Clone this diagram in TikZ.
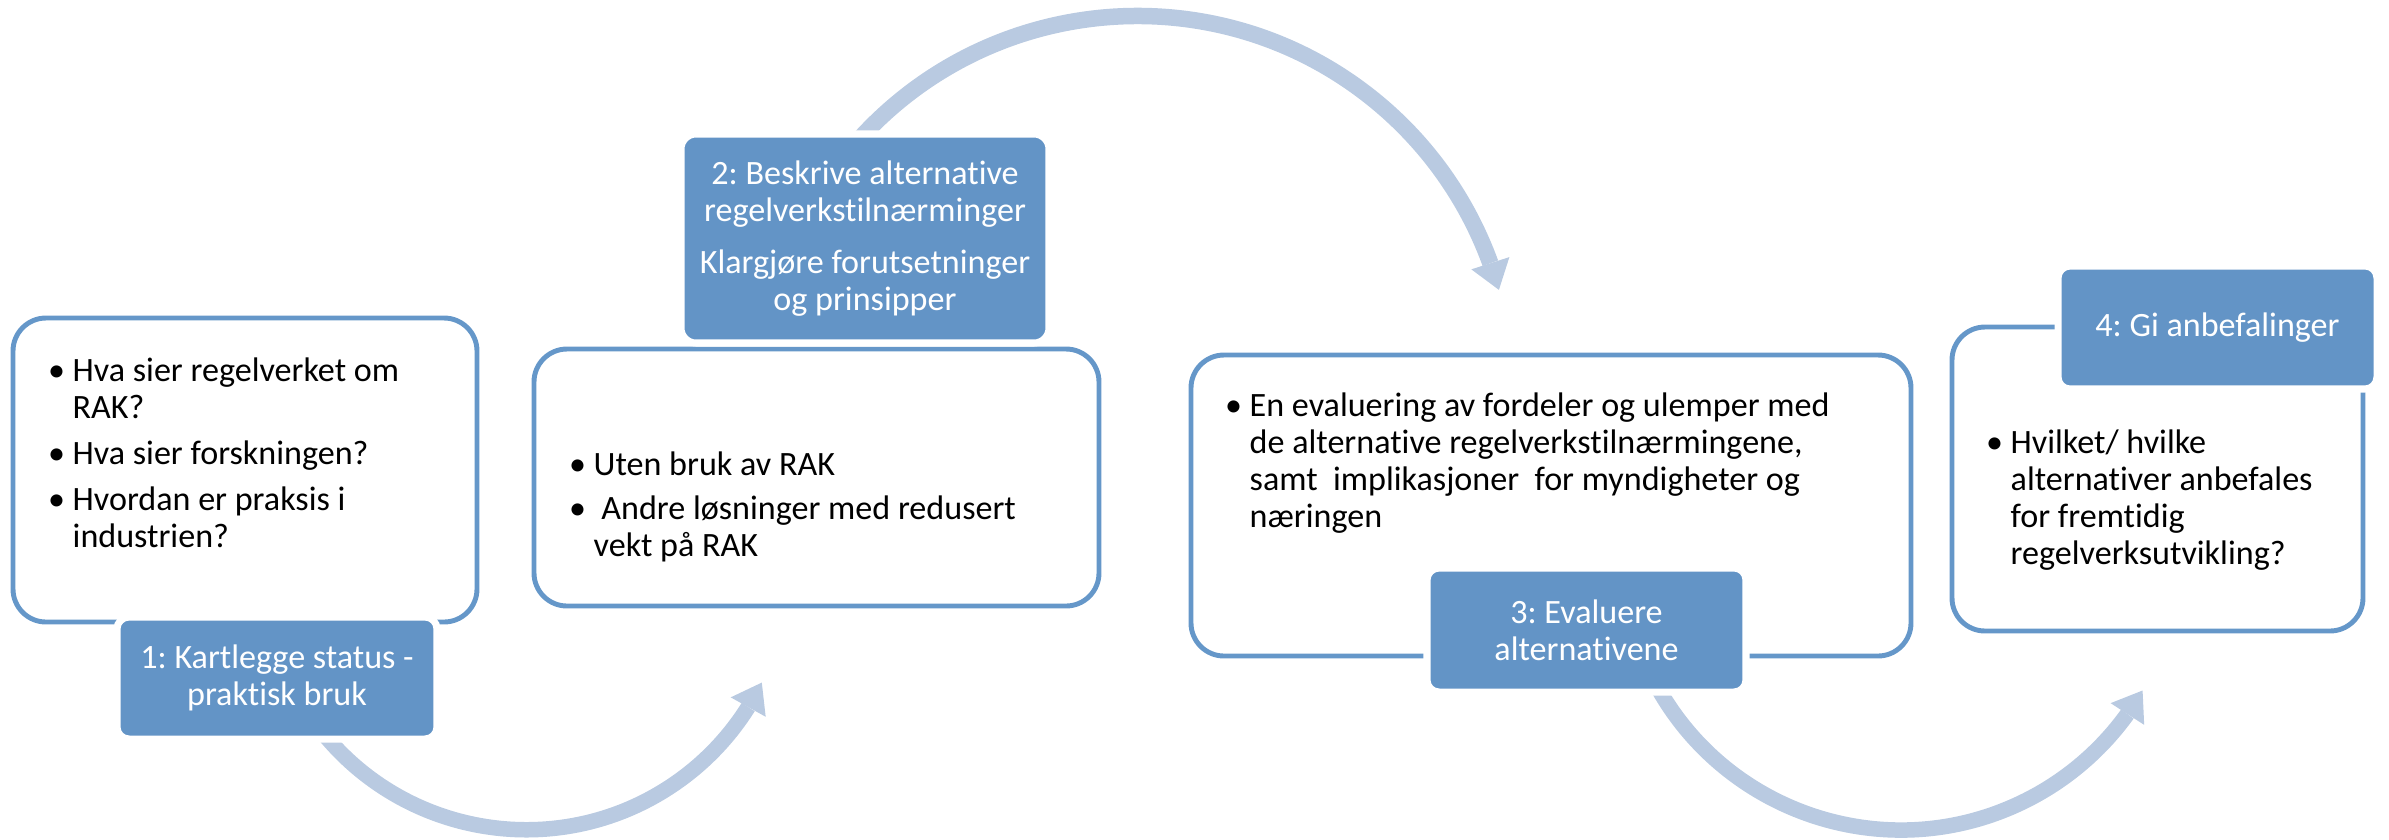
\documentclass[tikz,border=0pt]{standalone}
\usepackage{fontspec}
\setmainfont{Carlito}[Ligatures=NoCommon]
\usetikzlibrary{arrows.meta,bending,backgrounds}
\definecolor{stepblue}{RGB}{99,148,198}
\definecolor{rimblue}{RGB}{101,151,201}
\definecolor{flowblue}{RGB}{185,202,225}
\newcommand{\dotitem}{\llap{\makebox[0pt]{\textbullet}\hspace{4.6pt}}}
\frenchspacing
\begin{document}
\begin{tikzpicture}[
    panel/.style={draw=rimblue, line width=1.4pt, fill=white, rounded corners=0.33cm, inner sep=0pt},
    tag/.style={draw=white, line width=2pt, fill=stepblue, rounded corners=0.12cm, text=white,
      align=center, inner sep=0pt, font=\fontsize{9.7}{10.5}\selectfont},
    bullets/.style={anchor=base west, inner sep=0pt, font=\fontsize{9.7}{10.6}\selectfont},
    flow/.style={draw=flowblue, line width=0.155cm,
      -{Triangle[length=0.28cm, width=0.40cm, line width=0pt]}}
  ]
  \useasboundingbox (0,0) rectangle (23.89,-8.39);

  \node[panel, minimum width=4.64cm, minimum height=3.04cm] (b1) at (2.45,-4.70) {};
  \node[panel, minimum width=5.65cm, minimum height=2.57cm] (b2) at (8.165,-4.775) {};
  \node[panel, minimum width=7.20cm, minimum height=3.01cm] (b3) at (15.51,-5.055) {};
  \node[panel, minimum width=4.11cm, minimum height=3.04cm] (b4) at (21.575,-4.79) {};

  \node[bullets] (t1) at (0.72,-3.81) {\begin{tabular}[t]{@{}l@{}}
      \dotitem Hva sier regelverket om\\ RAK?\\[2.5pt]
      \dotitem Hva sier forskningen?\\[2.5pt]
      \dotitem Hvordan er praksis i\\ industrien?
    \end{tabular}};
  \node[bullets] (t2) at (5.93,-4.75) {\begin{tabular}[t]{@{}l@{}}
      \dotitem Uten bruk av RAK\\[2pt]
      \dotitem\ Andre løsninger med redusert\\ vekt på RAK
    \end{tabular}};
  \node[bullets] (t3) at (12.49,-4.16) {\begin{tabular}[t]{@{}l@{}}
      \dotitem En evaluering av fordeler og ulemper med\\
      de alternative regelverkstilnærmingene,\\
      samt\ \ implikasjoner\ \ for myndigheter og\\
      næringen
    \end{tabular}};
  \node[bullets] (t4) at (20.10,-4.53) {\begin{tabular}[t]{@{}l@{}}
      \dotitem Hvilket/ hvilke\\
      alternativer anbefales\\
      for fremtidig\\
      regelverksutvikling?
    \end{tabular}};

  \node[tag, minimum width=3.20cm, minimum height=1.22cm] (l1) at (2.77,-6.78)
    {1: Kartlegge status -\\praktisk bruk};
  \node[tag, minimum width=3.68cm, minimum height=2.09cm, rounded corners=0.15cm] (l2) at (8.65,-2.385)
    {2: Beskrive alternative\\regelverkstilnærminger\\[4.5pt]Klargjøre forutsetninger\\og prinsipper};
  \node[tag, minimum width=3.19cm, minimum height=1.24cm] (l3) at (15.865,-6.30)
    {3: Evaluere\\alternativene};
  \node[tag, minimum width=3.19cm, minimum height=1.23cm] (l4) at (22.175,-3.275)
    {4: Gi anbefalinger};

  \begin{scope}[on background layer]
    \coordinate (a1) at (3.117,-7.180);
    \coordinate (a2) at (8.498,-1.501);
    \coordinate (a3) at (16.481,-6.689);
    \draw[flow] (a1) arc[start angle=215, end angle=334, radius=2.62];
    \draw[flow, line width=0.165cm] (a2) arc[start angle=140, end angle=15.7, radius=3.755];
    \draw[flow] (a3) arc[start angle=205, end angle=330, radius=2.79];
  \end{scope}
\end{tikzpicture}
\end{document}
